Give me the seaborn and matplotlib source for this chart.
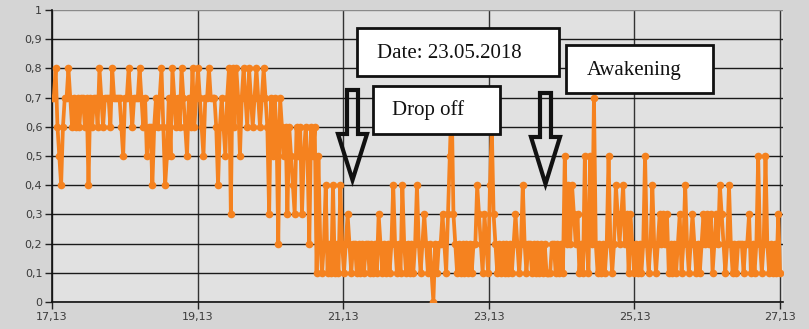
import numpy as np
import pandas as pd
import matplotlib
matplotlib.use("Agg")
import matplotlib.pyplot as plt
from matplotlib.patches import Rectangle, Polygon
import seaborn as sns

# ---- data (values in tenths) ----
seg1 = "7786546778" "7676767767" "4767768767" "7768777765" "7787677787"
seg2 = "6756646767" "8645758767" "6876576867" "8765778777" "6467657838"
seg3 = "6875787687" "6787678763" "7576276563" "6543656356" "5265615212"
seg4 = "4121412142" "1232122121" "2122121213" "2121212421" "2142121212"
seg5 = "4212321210" "2122321357" "3212121212" "1224321321" "4632121212"
seg6 = "1212321242" "1221212121" "2111221212" "1524243231" "2152152721"
seg7 = "2121252124" "3234231321" "2121252124" "2123232312" "1212312421"
seg8 = "2321212323" "2312324321" "2421212221" "2231212521" "2521212131"
segments = [seg1, seg2, seg3, seg4, seg5, seg6, seg7, seg8]
values = [int(c) / 10 for s in segments for c in s]

t_start, t_end = 17.13, 27.13
times = np.linspace(t_start, t_end, len(values))

x_ticks = [17.13, 19.13, 21.13, 23.13, 25.13, 27.13]
x_tick_labels = ["17,13", "19,13", "21,13", "23,13", "25,13", "27,13"]
y_ticks = [0, 0.1, 0.2, 0.3, 0.4, 0.5, 0.6, 0.7, 0.8, 0.9, 1.0]
y_tick_labels = ["0", "0,1", "0,2", "0,3", "0,4", "0,5", "0,6", "0,7", "0,8", "0,9", "1"]

title_text = "Date: 23.05.2018"
note_drop = "Drop off"
note_wake = "Awakening"

df = pd.DataFrame({"time": times, "value": values})

# ---- figure ----
sns.set_style("white")
plt.rcParams["font.family"] = ["DejaVu Sans"]

W, H = 809, 329
fig = plt.figure(figsize=(W / 100, H / 100), dpi=100, facecolor="#d5d5d5")
ax_l, ax_r, ax_t, ax_b = 52, 783, 10, 302
ax = fig.add_axes([ax_l / W, 1 - ax_b / H, (ax_r - ax_l) / W, (ax_b - ax_t) / H])
ax.set_facecolor("#e1e1e1")

sns.lineplot(data=df, x="time", y="value", ax=ax, estimator=None, sort=False,
             color="#f5821f", linewidth=2.7, marker="o", markersize=5.5,
             markeredgewidth=0, solid_joinstyle="miter", zorder=3)

ax.set_xlim(t_start, 27.17)
ax.set_ylim(0, 1.0)
ax.set_xticks(x_ticks)
ax.set_xticklabels(x_tick_labels)
ax.set_yticks(y_ticks)
ax.set_yticklabels(y_tick_labels)
ax.set_xlabel("")
ax.set_ylabel("")

ax.grid(True, color="#1a1a1a", linewidth=1.0)
ax.set_axisbelow(True)
for s in ["top", "right"]:
    ax.spines[s].set_visible(False)
for s in ["left", "bottom"]:
    ax.spines[s].set_color("#111111")
    ax.spines[s].set_linewidth(1.2)
ax.tick_params(axis="both", direction="out", length=5, width=1, color="#222222",
               labelsize=8, labelcolor="#3a3a3a", pad=2, bottom=True, left=True)
for g in ax.get_xgridlines():
    g.set_color("#333333")
ax.get_ygridlines()[-1].set_color("#8a8a8a")


def P(x, y):
    return (x / W, 1 - y / H)


def box(x0, y0, x1, y1):
    fx, fy = P(x0, y1)
    r = Rectangle((fx, fy), (x1 - x0) / W, (y1 - y0) / H, transform=fig.transFigure,
                  facecolor="white", edgecolor="#111111", linewidth=2.0, zorder=5)
    fig.patches.append(r)


def arrow(cx, top, head_y, tip, sw=5.5, hw=14.5):
    pts = [P(cx - sw, top), P(cx + sw, top), P(cx + sw, head_y), P(cx + hw, head_y),
           P(cx, tip), P(cx - hw, head_y), P(cx - sw, head_y)]
    poly = Polygon(pts, closed=True, transform=fig.transFigure, fill=False,
                   edgecolor="#111111", linewidth=3.0, joinstyle="miter", zorder=5)
    fig.patches.append(poly)


box(357, 28, 559, 76)
box(373, 86, 500, 134)
box(566, 45, 713, 93)
arrow(352.5, 90, 134, 180)
arrow(545.5, 93, 137, 184)

serif = ["Liberation Serif", "DejaVu Serif"]
fig.text(*P(377, 53), title_text, family=serif, fontsize=15, ha="left", va="center",
         color="#111111", zorder=6)
fig.text(*P(392, 110), note_drop, family=serif, fontsize=15, ha="left", va="center",
         color="#111111", zorder=6)
fig.text(*P(587, 70), note_wake, family=serif, fontsize=15, ha="left", va="center",
         color="#111111", zorder=6)

fig.savefig("out.png", dpi=100, facecolor=fig.get_facecolor())
